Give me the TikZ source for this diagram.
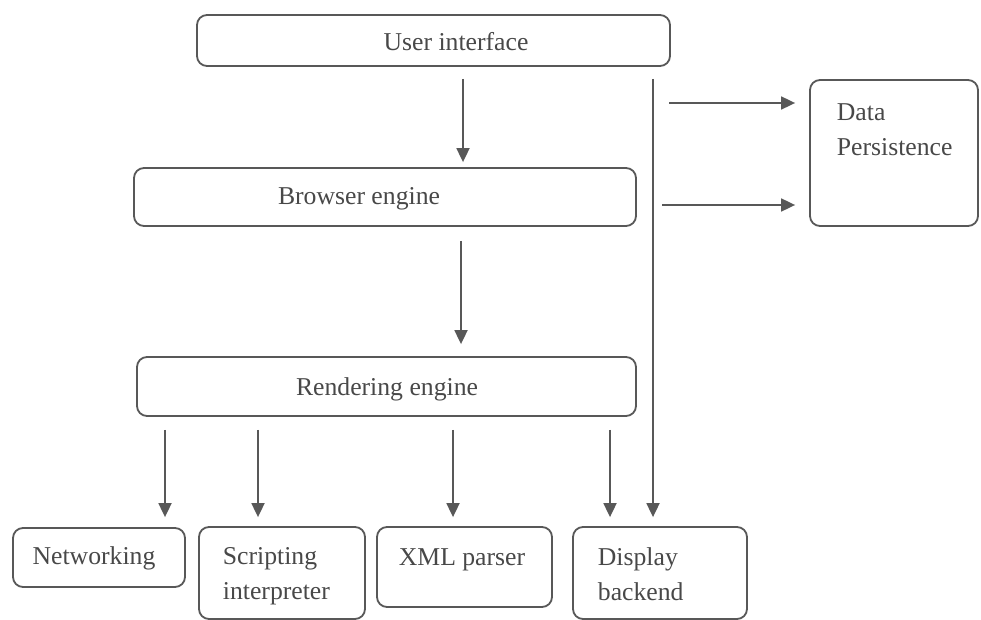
\documentclass[tikz,border=0pt]{standalone}
\usepackage{fontspec}
\setmainfont{Liberation Serif}
\usetikzlibrary{arrows.meta}
\definecolor{linegray}{RGB}{88,88,88}
\definecolor{textgray}{RGB}{72,72,72}

\begin{document}
\begin{tikzpicture}[x=1pt, y=-1pt, line width=1.8pt,
    box/.style = {draw=linegray, rounded corners=10pt, inner sep=0pt},
    txt/.style = {text=textgray, inner sep=0pt, align=left, font=\fontsize{25.7}{35}\selectfont},
    arr/.style = {draw=linegray, -{Triangle[length=14pt, width=13pt]}}]
    \useasboundingbox (0,0) rectangle (981,620);
    % boxes
    \node[box, minimum width=473pt, minimum height=51pt] (ui) at (433.5,40.5) {};
    \node[box, minimum width=502pt, minimum height=58pt] (browser) at (385,197) {};
    \node[box, minimum width=499pt, minimum height=59pt] (render) at (386.5,386.5) {};
    \node[box, minimum width=168pt, minimum height=146pt] (data) at (894,153) {};
    \node[box, minimum width=172pt, minimum height=59pt] (net) at (99,557.5) {};
    \node[box, minimum width=166pt, minimum height=92pt] (script) at (282,573) {};
    \node[box, minimum width=175pt, minimum height=80pt] (xml) at (464.5,567) {};
    \node[box, minimum width=174pt, minimum height=92pt] (display) at (660,573) {};
    % texts
    \node[txt, anchor=base] (ui-t) at (456,51) {User interface};
    \node[txt, anchor=base] (browser-t) at (359,205) {Browser engine};
    \node[txt, anchor=base] (render-t) at (387,395) {Rendering engine};
    \node[txt, anchor=base west] (data-t) at (836,156) {Data\\Persistence};
    \node[txt, anchor=base] (net-t) at (94,564) {Networking};
    \node[txt, anchor=base west] (script-t) at (222,599) {Scripting\\interpreter};
    \node[txt, anchor=base] (xml-t) at (462,565) {XML parser};
    \node[txt, anchor=base west] (display-t) at (597,600) {Display\\backend};
    % connectors
    \coordinate (p1) at (669,103);
    \coordinate (p2) at (662,205);
    \draw[arr, shorten <=12pt, shorten >=5pt] (ui.south -| 463,0) -- (browser.north -| 463,0);
    \draw[arr, shorten <=14pt, shorten >=12pt] (browser.south -| 461,0) -- (render.north -| 461,0);
    \draw[arr, shorten <=13pt, shorten >=10pt] (render.south -| 165,0) -- (net.north -| 165,0);
    \draw[arr, shorten <=13pt, shorten >=9pt] (render.south -| 258,0) -- (script.north -| 258,0);
    \draw[arr, shorten <=13pt, shorten >=9pt] (render.south -| 453,0) -- (xml.north -| 453,0);
    \draw[arr, shorten <=13pt, shorten >=9pt] (render.south -| 610,0) -- (display.north -| 610,0);
    \draw[arr, shorten <=12pt, shorten >=9pt] (ui.south -| 653,0) -- (display.north -| 653,0);
    \draw[arr, shorten >=14pt] (p1) -- (p1 -| data.west);
    \draw[arr, shorten >=14pt] (p2) -- (p2 -| data.west);
\end{tikzpicture}
\end{document}
